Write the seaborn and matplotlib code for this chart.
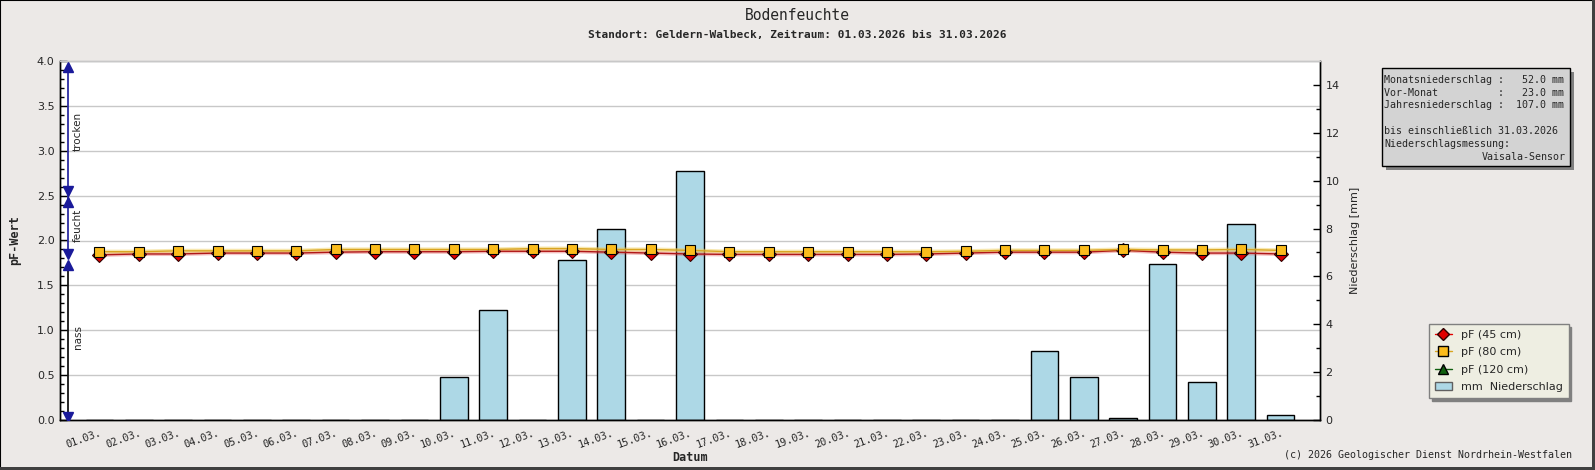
import numpy as np
import matplotlib
matplotlib.use("Agg")
import matplotlib.pyplot as plt
import seaborn as sns
from matplotlib import transforms
from matplotlib.lines import Line2D
from matplotlib.patches import Rectangle, Patch

# Daten (März 2026, Geldern-Walbeck)
days = np.arange(1, 32)
day_labels = [f"{d:02d}.03." for d in days]
precip_mm = [0, 0, 0, 0, 0, 0, 0, 0, 0, 1.8, 4.6, 0, 6.7, 8.0, 0, 10.4,
             0, 0, 0, 0, 0, 0, 0, 0, 2.9, 1.8, 0.1, 6.5, 1.6, 8.2, 0.2]
pf_45 = [1.84, 1.85, 1.85, 1.86, 1.86, 1.86, 1.87, 1.875, 1.875, 1.875, 1.88,
         1.88, 1.88, 1.87, 1.86, 1.85, 1.845, 1.845, 1.845, 1.845, 1.845,
         1.85, 1.86, 1.87, 1.87, 1.87, 1.89, 1.87, 1.86, 1.86, 1.85]
pf_80 = [1.875, 1.875, 1.885, 1.885, 1.885, 1.885, 1.90, 1.90, 1.90, 1.90,
         1.90, 1.91, 1.91, 1.90, 1.90, 1.89, 1.875, 1.875, 1.875, 1.875,
         1.875, 1.875, 1.88, 1.89, 1.89, 1.89, 1.90, 1.895, 1.895, 1.90, 1.89]
monat_mm = 52.0
vormonat_mm = 23.0
jahr_mm = 107.0
stand = "31.03.2026"

sns.set_theme(style="white")
plt.rcParams["font.family"] = ["DejaVu Sans"]
mono = "DejaVu Sans Mono"
bg = "#ece9e7"

W, H = 1595, 470
fig = plt.figure(figsize=(W / 100, H / 100), dpi=100, facecolor=bg)

def fx(px):
    return px / W

def fy(py):
    return 1 - py / H

AX_L, AX_R, AX_T, AX_B = 60, 1320, 61, 420
ax = fig.add_axes([fx(AX_L), fy(AX_B), fx(AX_R) - fx(AX_L), fy(AX_T) - fy(AX_B)])
ax.set_facecolor("white")
ax2 = ax.twinx()

# Gitterlinien (pF-Skala) unter den Balken
grid_tr = transforms.blended_transform_factory(ax.transAxes, ax2.transData)
for v in np.arange(0.5, 4.01, 0.5):
    ax.plot([0, 1], [v, v], transform=grid_tr, color="#c8c8c8", lw=1, zorder=0)

# Niederschlag (rechte Achse)
sns.barplot(x=days, y=precip_mm, native_scale=True, width=0.7, color="#add8e6",
            saturation=1, edgecolor="black", linewidth=1, ax=ax, zorder=2)
ax.set_ylim(0, 15)
ax.set_xlim(0, 32)
ax.yaxis.tick_right()
ax.yaxis.set_label_position("right")
ax.set_yticks(np.arange(0, 15, 2))
ax.set_yticks(np.arange(1, 15, 2), minor=True)
ax.set_ylabel("Niederschlag [mm]", fontsize=8)
ax.yaxis.set_label_coords((1350 - AX_L) / (AX_R - AX_L), 0.5)

# pF-Werte (linke Achse)
sns.lineplot(x=days, y=pf_45, ax=ax2, color="#d44", lw=3, alpha=0.35, zorder=3)
sns.lineplot(x=days, y=pf_80, ax=ax2, color="#f0d060", lw=3, alpha=0.5, zorder=3)
sns.lineplot(x=days, y=pf_45, ax=ax2, color="#b01818", lw=1, marker="D",
             markersize=7, markerfacecolor="#e00000", markeredgecolor="#300000",
             markeredgewidth=0.8, zorder=4)
sns.lineplot(x=days, y=pf_80, ax=ax2, color="#d9a520", lw=1, marker="s",
             markersize=7, markerfacecolor="#fbbc1c", markeredgecolor="black",
             markeredgewidth=0.8, zorder=5)
ax2.set_ylim(0, 4)
ax2.yaxis.tick_left()
ax2.yaxis.set_label_position("left")
ax2.set_yticks(np.arange(0, 4.01, 0.5))
ax2.set_yticks(np.arange(0, 4.01, 0.1), minor=True)
ax2.set_yticklabels([f"{v:.1f}" for v in np.arange(0, 4.01, 0.5)])
ax2.set_ylabel("pF-Wert", fontsize=8.5, family=mono, fontweight="bold")
ax2.yaxis.set_label_coords(-(AX_L - 21) / (AX_R - AX_L), 0.5)

# Bereichspfeile trocken / feucht / nass
navy = "#1a1a9a"
xa = 0.2
ax2.plot([xa, xa], [3.93, 1.85], color=navy, lw=1.2, zorder=6)
ax2.plot([xa, xa], [1.73, 0.03], color="black", lw=1.2, zorder=6)
ax2.plot([xa, xa, xa], [3.93, 2.43, 1.73], ls="none", marker="^", color=navy,
         markersize=6.5, zorder=7)
ax2.plot([xa, xa, xa], [2.55, 1.85, 0.03], ls="none", marker="v", color=navy,
         markersize=6.5, zorder=7)
for txt, yv in [("trocken", 3.22), ("feucht", 2.17), ("nass", 0.92)]:
    ax2.text(0.45, yv, txt, rotation=90, ha="center", va="center", fontsize=7.5,
             family="DejaVu Sans", zorder=7)

# Achsen / Ticks
ax.set_xticks(days)
ax.set_xticklabels(day_labels, rotation=20, ha="right", rotation_mode="anchor",
                   family=mono, fontsize=7.4)
ax.set_xlabel("Datum", family=mono, fontweight="bold", fontsize=8.5)
ax.xaxis.set_label_coords((690 - AX_L) / (AX_R - AX_L), -(451 - AX_B) / (AX_B - AX_T))
for a in (ax, ax2):
    a.tick_params(which="major", direction="in", length=5, width=1, color="black",
                  labelsize=8, pad=4)
    a.tick_params(which="minor", direction="in", length=3, width=1, color="black")
    for s in a.spines.values():
        s.set_color("black")
        s.set_linewidth(1)
    a.spines["top"].set_color("#c8c8c8")
ax.tick_params(axis="x", pad=6)
ax.tick_params(axis="x", which="major", labelsize=7.4)

# Titel
fig.text(0.5, fy(15), "Bodenfeuchte", ha="center", va="center", family=mono, fontsize=10.5)
fig.text(0.5, fy(35), "Standort: Geldern-Walbeck, Zeitraum: 01.03.2026 bis 31.03.2026",
         ha="center", va="center", family=mono, fontweight="bold", fontsize=8)

# Infobox
bx0, bx1, by0, by1 = 1382, 1570, 68, 166
fig.patches.append(Rectangle((fx(bx0 + 4), fy(by1 + 4)), fx(bx1) - fx(bx0),
                             fy(by0) - fy(by1), transform=fig.transFigure,
                             facecolor="#808080", edgecolor="none"))
fig.patches.append(Rectangle((fx(bx0), fy(by1)), fx(bx1) - fx(bx0),
                             fy(by0) - fy(by1), transform=fig.transFigure,
                             facecolor="#d3d3d3", edgecolor="black", lw=1))
info = [
    (80, f"Monatsniederschlag : {monat_mm:6.1f} mm"),
    (92.7, f"{'Vor-Monat':<18} : {vormonat_mm:6.1f} mm"),
    (105, f"Jahresniederschlag : {jahr_mm:6.1f} mm"),
    (131, f"bis einschließlich {stand}"),
    (144.3, "Niederschlagsmessung:"),
]
for py, txt in info:
    fig.text(fx(bx0 + 2), fy(py), txt, ha="left", va="center", family=mono, fontsize=7.2)
fig.text(fx(bx1 - 4), fy(157.3), "Vaisala-Sensor", ha="right", va="center",
         family=mono, fontsize=7.2)

# Legende
handles = [
    Line2D([], [], color="#e00000", lw=1, marker="D", markersize=6.5,
           markerfacecolor="#e00000", markeredgecolor="#300000"),
    Line2D([], [], color="#d9a520", lw=1, marker="s", markersize=7,
           markerfacecolor="#fbbc1c", markeredgecolor="black"),
    Line2D([], [], color="#106010", lw=1, marker="^", markersize=7.5,
           markerfacecolor="#106010", markeredgecolor="black"),
    Patch(facecolor="#add8e6", edgecolor="#606060"),
]
leg = fig.legend(handles, ["pF (45 cm)", "pF (80 cm)", "pF (120 cm)", "mm  Niederschlag"],
                 loc="upper left", bbox_to_anchor=(fx(1429), fy(324)),
                 fontsize=8, frameon=True, fancybox=False, shadow={"color": "#808080", "alpha": 1},
                 facecolor="#eeeee2", edgecolor="#808080", framealpha=1,
                 handlelength=1.6, handletextpad=0.8, borderpad=0.5, labelspacing=0.68,
                 borderaxespad=0)

# Copyright
fig.text(fx(1572), fy(455), "(c) 2026 Geologischer Dienst Nordrhein-Westfalen",
         ha="right", va="center", family=mono, fontsize=7.2)

# Rahmen
fig.patches.append(Rectangle((0, 0), 1, 1, transform=fig.transFigure, fill=False,
                             edgecolor="black", lw=1.5))
fig.patches.append(Rectangle((1 - fx(3), 0), fx(3), 1, transform=fig.transFigure,
                             facecolor="#404040", edgecolor="none"))
fig.patches.append(Rectangle((0, 0), 1, 3 / H, transform=fig.transFigure,
                             facecolor="#404040", edgecolor="none"))

fig.savefig("out.png", dpi=100, facecolor=bg)
